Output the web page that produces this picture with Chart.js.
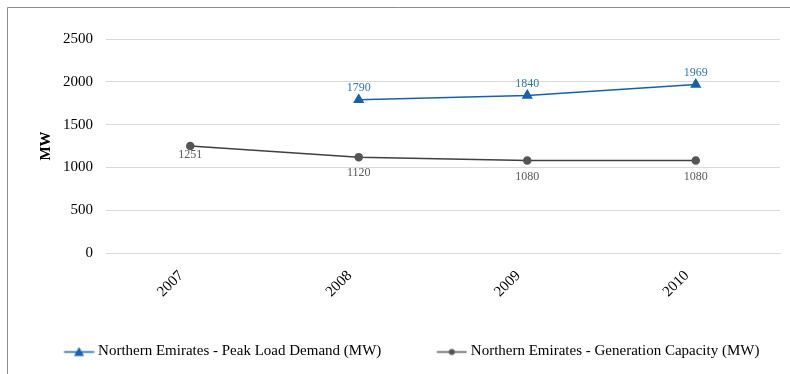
<!DOCTYPE html>
<html>
<head>
<meta charset="utf-8">
<script src="https://cdn.jsdelivr.net/npm/chart.js@4.4.1/dist/chart.umd.min.js"></script>
<style>
  html, body { margin: 0; padding: 0; background: #fff; }
  #wrap { width: 790px; height: 374px; }
</style>
</head>
<body>
<div id="wrap"><canvas id="chart" width="790" height="374"></canvas></div>
<script>
var years = ['2007', '2008', '2009', '2010'];
var peakLoad = [null, 1790, 1840, 1969];
var genCapacity = [1251, 1120, 1080, 1080];
var yTicks = [0, 500, 1000, 1500, 2000, 2500];

var blue = '#1660ac';
var blueLabel = '#2e75b6';
var grey = '#404040';
var greyMarker = '#555555';
var serif = '"Liberation Serif", "Times New Roman", serif';

// legend icon: blank space on the left, then a line with the marker in the middle
// (70 wide, drawn centred in a 62 px legend box)
function legendIcon(color, marker) {
    var c = document.createElement('canvas');
    c.width = 70; c.height = 12;
    var g = c.getContext('2d');
    g.strokeStyle = color;
    g.lineWidth = 1.5;
    g.beginPath(); g.moveTo(39.5, 6.5); g.lineTo(69.5, 6.5); g.stroke();
    g.fillStyle = color;
    g.beginPath();
    if (marker === 'triangle') {
        g.moveTo(54.5, 1.5); g.lineTo(59.5, 10.5); g.lineTo(49.5, 10.5); g.closePath();
    } else {
        g.arc(54.5, 6.5, 3, 0, Math.PI * 2);
    }
    g.fill();
    return c;
}

var frame = {
    id: 'frame',
    beforeDraw: function(chart) {
        var ctx = chart.ctx;
        ctx.save();
        ctx.fillStyle = '#fff';
        ctx.fillRect(0, 0, chart.width, chart.height);
        ctx.strokeStyle = '#8c8c8c';
        ctx.lineWidth = 1;
        ctx.beginPath();
        ctx.moveTo(7.5, chart.height);
        ctx.lineTo(7.5, 7.5);
        ctx.lineTo(chart.width, 7.5);
        ctx.stroke();
        ctx.restore();
    }
};

var valueLabels = {
    id: 'valueLabels',
    afterDatasetsDraw: function(chart) {
        var ctx = chart.ctx;
        ctx.save();
        ctx.font = '12px ' + serif;
        ctx.textAlign = 'center';
        chart.data.datasets.forEach(function(ds, i) {
            var meta = chart.getDatasetMeta(i);
            meta.data.forEach(function(pt, j) {
                var v = ds.data[j];
                if (v === null) return;
                if (i === 0) {
                    ctx.fillStyle = blueLabel;
                    ctx.textBaseline = 'bottom';
                    ctx.fillText(v, pt.x, pt.y - 6);
                } else {
                    ctx.fillStyle = '#595959';
                    ctx.textBaseline = 'top';
                    ctx.fillText(v, pt.x, pt.y + (j === 0 ? 3 : 10));
                }
            });
        });
        ctx.restore();
    }
};

new Chart(document.getElementById('chart'), {
    type: 'line',
    data: {
        labels: years,
        datasets: [
            {
                label: 'Northern Emirates - Peak Load Demand (MW)',
                data: peakLoad,
                borderColor: blue,
                backgroundColor: blue,
                borderWidth: 1.5,
                pointStyle: 'triangle',
                pointRadius: 5,
                pointBackgroundColor: blue,
                pointBorderColor: blue,
                fill: false,
                tension: 0
            },
            {
                label: 'Northern Emirates - Generation Capacity (MW)',
                data: genCapacity,
                borderColor: grey,
                backgroundColor: greyMarker,
                borderWidth: 1.5,
                pointStyle: 'circle',
                pointRadius: 3.5,
                pointBackgroundColor: greyMarker,
                pointBorderColor: greyMarker,
                fill: false,
                tension: 0
            }
        ]
    },
    options: {
        responsive: false,
        animation: false,
        layout: { padding: { left: 8, right: 10, top: 39, bottom: 5 } },
        scales: {
            x: {
                offset: true,
                grid: { display: false, drawTicks: false },
                border: { color: '#d9d9d9' },
                ticks: {
                    color: '#000',
                    font: { family: serif, size: 15 },
                    minRotation: 45,
                    maxRotation: 45,
                    padding: 14,
                    labelOffset: -9
                },
                afterFit: function(scale) { scale.height = 71; }
            },
            y: {
                min: 0,
                max: 2500,
                afterBuildTicks: function(scale) {
                    scale.ticks = yTicks.map(function(v) { return { value: v }; });
                },
                grid: { color: '#d9d9d9', drawTicks: false },
                border: { display: false },
                ticks: {
                    color: '#000',
                    font: { family: serif, size: 15 },
                    padding: 13,
                    callback: function(v) { return String(v); }
                },
                title: {
                    display: true,
                    text: 'MW',
                    color: '#000',
                    font: { family: serif, size: 15, weight: 'bold' },
                    padding: { top: 29, bottom: 0 }
                },
                afterFit: function(scale) { scale.width = 98; }
            }
        },
        plugins: {
            legend: {
                position: 'bottom',
                labels: {
                    color: '#000',
                    font: { family: serif, size: 15 },
                    usePointStyle: true,
                    pointStyleWidth: 62,
                    padding: 20,
                    generateLabels: function(chart) {
                        return chart.data.datasets.map(function(ds, i) {
                            return {
                                text: ds.label,
                                fillStyle: ds.borderColor,
                                strokeStyle: ds.borderColor,
                                lineWidth: 0,
                                pointStyle: legendIcon(i === 0 ? blue : greyMarker, i === 0 ? 'triangle' : 'circle'),
                                datasetIndex: i,
                                hidden: false
                            };
                        });
                    }
                }
            },
            tooltip: { enabled: false }
        }
    },
    plugins: [frame, valueLabels]
});
</script>
</body>
</html>
